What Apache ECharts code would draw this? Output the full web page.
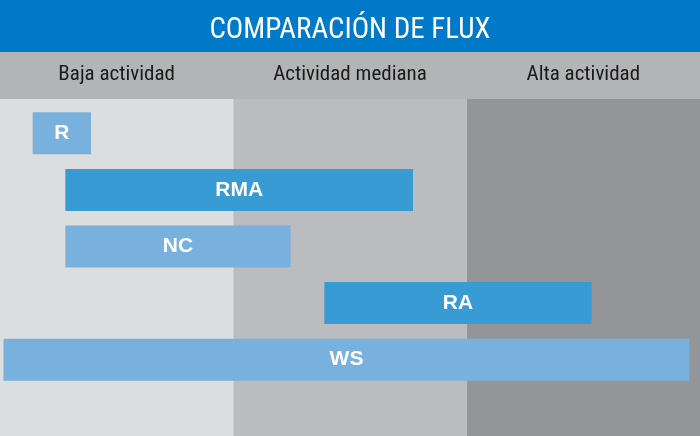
<!DOCTYPE html>
<html>
<head>
<meta charset="utf-8">
<script src="https://cdn.jsdelivr.net/npm/echarts@6/dist/echarts.min.js"></script>
<style>html,body{margin:0;padding:0;background:#fff}#chart{width:700px;height:436px}</style>
</head>
<body>
<div id="chart"></div>
<script>
// Activity levels (columns), x scale 0..3
const activityLevels = ['Baja actividad', 'Actividad mediana', 'Alta actividad'];
// Flux methods (rows, top to bottom) with their activity range
const methods = ['R', 'RMA', 'NC', 'RA', 'WS'];
const rangeStart = [0.14, 0.28, 0.28, 1.39, 0.015];
const rangeEnd = [0.39, 1.77, 1.245, 2.535, 2.955];
const titleText = 'COMPARACIÓN DE FLUX';

const columnColors = ['#dcdddf', '#bbbcbf', '#939598'];
const barColors = ['#78b0de', '#389bd4', '#78b0de', '#389bd4', '#78b0de'];
const narrow = '"Liberation Sans Narrow", "Arial Narrow", "Roboto Condensed", sans-serif';

const chart = echarts.init(document.getElementById('chart'), null, {renderer: 'canvas'});
chart.setOption({
  animation: false,
  backgroundColor: '#ffffff',
  title: {
    text: titleText, left: 'center', top: 16, padding: 0,
    textStyle: {color: '#ffffff', fontFamily: narrow, fontWeight: 'normal', fontSize: 29}
  },
  graphic: [
    {type: 'rect', left: 0, top: 0, z: -10, shape: {width: 700, height: 52}, style: {fill: '#0079c8'}},
    {type: 'rect', left: 0, top: 52, z: -10, shape: {width: 700, height: 47}, style: {fill: '#b3b4b6'}}
  ],
  grid: [
    {left: 0, right: 0, top: 99, bottom: 0},
    {left: 0, right: 0, top: 105, bottom: 48}
  ],
  xAxis: [
    {
      gridIndex: 0, type: 'category', data: activityLevels, position: 'top',
      axisLine: {show: false}, axisTick: {show: false},
      axisLabel: {margin: 24, verticalAlign: 'middle', color: '#1a1a1a', fontFamily: narrow, fontSize: 21}
    },
    {gridIndex: 1, type: 'value', min: 0, max: 3, show: false}
  ],
  yAxis: [
    {gridIndex: 0, type: 'value', min: 0, max: 1, show: false},
    {gridIndex: 1, type: 'category', data: methods, inverse: true, show: false}
  ],
  series: [
    {
      type: 'bar', xAxisIndex: 0, yAxisIndex: 0, barCategoryGap: 0, silent: true,
      data: activityLevels.map((n, i) => ({value: 1, itemStyle: {color: columnColors[i]}}))
    },
    {
      type: 'bar', xAxisIndex: 1, yAxisIndex: 1, stack: 'flux', barWidth: 42, silent: true,
      itemStyle: {color: 'rgba(0,0,0,0)'},
      data: rangeStart
    },
    {
      type: 'bar', xAxisIndex: 1, yAxisIndex: 1, stack: 'flux', barWidth: 42,
      data: methods.map((m, i) => ({value: rangeEnd[i] - rangeStart[i], itemStyle: {color: barColors[i]}})),
      label: {
        show: true, position: 'inside',
        formatter: p => methods[p.dataIndex],
        color: '#ffffff', fontFamily: '"Liberation Sans", Arial, sans-serif', fontWeight: 'bold', fontSize: 21
      }
    }
  ]
});
</script>
</body>
</html>
